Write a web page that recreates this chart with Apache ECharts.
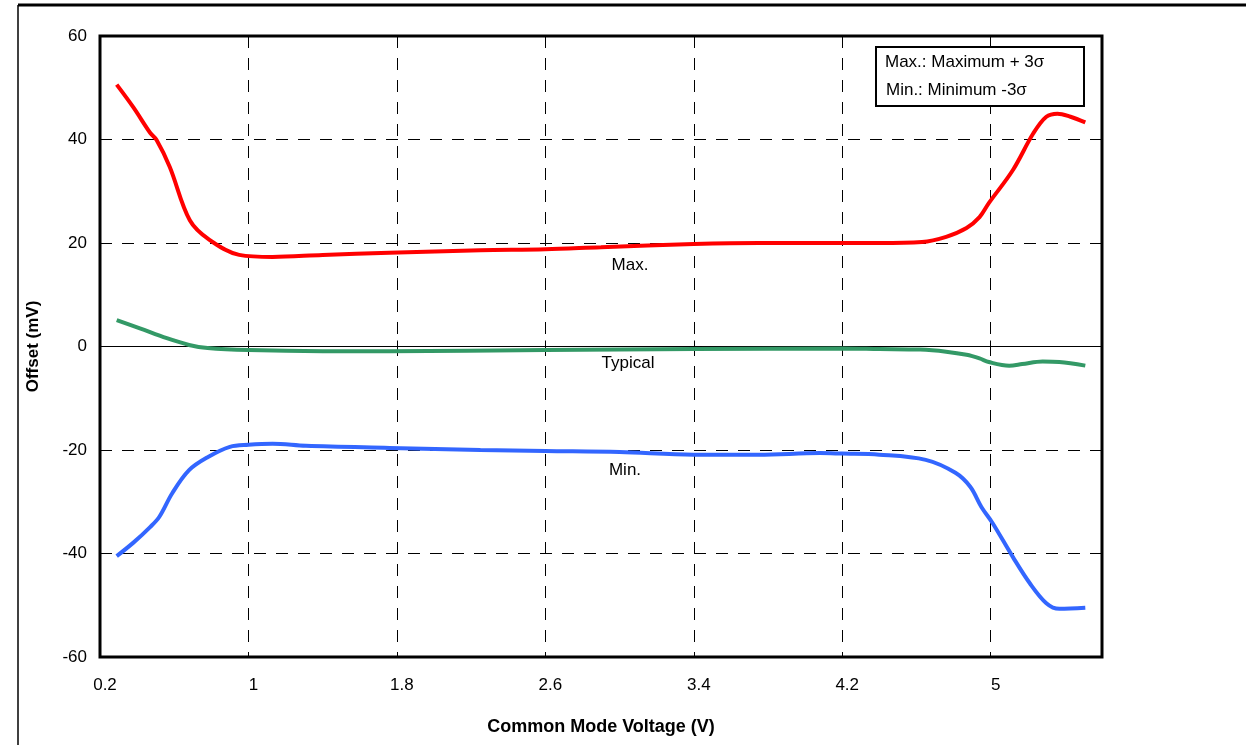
<!DOCTYPE html>
<html><head><meta charset="utf-8">
<script src="https://cdn.jsdelivr.net/npm/echarts@6/dist/echarts.min.js"></script>
<style>html,body{margin:0;padding:0;background:#fff}#c{width:1246px;height:745px}</style>
</head><body><div id="c"></div>
<script>
const xTicks = [0.2, 1, 1.8, 2.6, 3.4, 4.2, 5];
const maxX = [0.29,0.38,0.47,0.505,0.576,0.684,0.79,0.95,1.13,1.4,1.76,2.25,2.6,2.9,3.4,3.75,4.2,4.4,4.63,4.76,4.87,4.94,4.99,5.12,5.23,5.30,5.36,5.43,5.51];
const maxY = [50.6,46.2,41.3,39.9,34.7,24.4,20.6,17.7,17.3,17.7,18.1,18.6,18.8,19.2,19.8,20.0,20.0,20.0,20.2,21.2,22.9,25.0,27.7,34.1,41.2,44.4,45.0,44.4,43.3];
const typX = [0.29,0.415,0.56,0.68,0.78,1.0,1.4,1.76,2.6,3.4,4.2,4.4,4.62,4.76,4.87,4.94,4.99,5.10,5.17,5.28,5.37,5.51];
const typY = [5.1,3.5,1.6,0.3,-0.3,-0.7,-0.9,-0.9,-0.7,-0.5,-0.4,-0.5,-0.6,-1.0,-1.6,-2.3,-3.0,-3.7,-3.4,-2.9,-3.0,-3.7];
const minX = [0.29,0.38,0.47,0.52,0.59,0.68,0.78,0.9,1.0,1.13,1.31,1.76,2.25,2.6,3.0,3.4,3.75,4.08,4.2,4.4,4.65,4.81,4.89,4.95,5.01,5.12,5.21,5.30,5.37,5.51];
const minY = [-40.5,-37.9,-34.9,-32.9,-28.3,-23.9,-21.4,-19.4,-19.0,-18.8,-19.2,-19.6,-20.0,-20.2,-20.4,-20.9,-20.9,-20.6,-20.7,-20.9,-21.9,-24.4,-27.1,-31.0,-34.1,-40.7,-45.7,-49.6,-50.7,-50.5];
const legendLines = ['Max.: Maximum + 3\u03c3', 'Min.: Minimum -3\u03c3'];
const curveLabels = ['Max.', 'Typical', 'Min.'];

const zip = (a, b) => a.map((v, i) => [v, b[i]]);
const font = 'Liberation Sans, Arial, sans-serif';
const chart = echarts.init(document.getElementById('c'), null, {renderer: 'canvas'});
const gridDash = {color: '#000', width: 1, type: [12, 10]};
const mk = (name, x, y, color) => ({
  name, type: 'line', smooth: 0.35, symbol: 'none', data: zip(x, y),
  lineStyle: {color, width: 4}, z: 5
});
const series = [
  mk('Max', maxX, maxY, '#ff0000'),
  mk('Typical', typX, typY, '#339966'),
  mk('Min', minX, minY, '#3366ff')
];
series[1].markLine = {silent: true, symbol: 'none', label: {show: false},
  lineStyle: {color: '#000', width: 1, type: 'solid'}, data: [{yAxis: 0}], z: 3};

chart.setOption({
  animation: false,
  backgroundColor: '#fff',
  grid: {left: 100, right: 144, top: 36, bottom: 88, show: true, borderColor: '#000', borderWidth: 3, backgroundColor: 'transparent'},
  xAxis: {
    type: 'value', min: 0.2, max: 5.6, interval: 0.8,
    name: 'Common Mode Voltage (V)', nameLocation: 'middle', nameGap: 61,
    nameTextStyle: {fontFamily: font, fontWeight: 'bold', fontSize: 18, color: '#000'},
    axisLine: {show: false},
    axisTick: {show: true, inside: true, length: 6, lineStyle: {color: '#000'}},
    splitLine: {show: true, lineStyle: gridDash},
    axisLabel: {margin: 20, fontFamily: font, fontSize: 17, color: '#000', showMaxLabel: false, padding: [0, 0, 0, 10],
      formatter: v => {
        const r = Math.round(v * 10) / 10;
        return xTicks.some(t => Math.abs(t - r) < 1e-6) ? String(r) : '';
      }}
  },
  yAxis: {
    type: 'value', min: -60, max: 60, interval: 20,
    name: 'Offset (mV)', nameLocation: 'middle', nameGap: 58, nameRotate: 90,
    nameTextStyle: {fontFamily: font, fontWeight: 'bold', fontSize: 17, color: '#000'},
    axisLine: {show: false},
    axisTick: {show: true, inside: true, length: 6, lineStyle: {color: '#000'}},
    splitLine: {show: true, lineStyle: gridDash},
    axisLabel: {margin: 13, fontFamily: font, fontSize: 17, color: '#000'}
  },
  series,
  graphic: [
    {type: 'line', shape: {x1: 18, y1: 5, x2: 1246, y2: 5}, style: {stroke: '#000', lineWidth: 3}},
    {type: 'line', shape: {x1: 18, y1: 5, x2: 18, y2: 745}, style: {stroke: '#000', lineWidth: 1.5}},
    {type: 'rect', shape: {x: 876, y: 47, width: 208, height: 59}, style: {fill: '#fff', stroke: '#000', lineWidth: 2}, z: 10},
    {type: 'text', x: 885, y: 62, style: {text: legendLines[0], font: '17px ' + font, fill: '#000', verticalAlign: 'middle'}, z: 11},
    {type: 'text', x: 886, y: 90, style: {text: legendLines[1], font: '17px ' + font, fill: '#000', verticalAlign: 'middle'}, z: 11},
    {type: 'text', x: 630, y: 265, style: {text: curveLabels[0], font: '17px ' + font, fill: '#000', align: 'center', verticalAlign: 'middle'}, z: 11},
    {type: 'text', x: 628, y: 363, style: {text: curveLabels[1], font: '17px ' + font, fill: '#000', align: 'center', verticalAlign: 'middle'}, z: 11},
    {type: 'text', x: 625, y: 470, style: {text: curveLabels[2], font: '17px ' + font, fill: '#000', align: 'center', verticalAlign: 'middle'}, z: 11}
  ]
});
</script></body></html>
